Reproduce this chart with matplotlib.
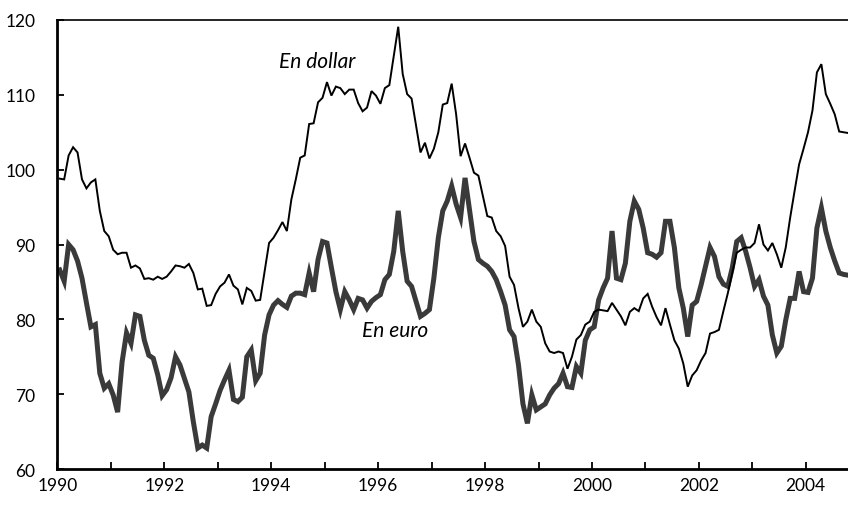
import numpy as np
import matplotlib
matplotlib.use("Agg")
import matplotlib.pyplot as plt
from matplotlib.ticker import MultipleLocator, FuncFormatter

plt.rcParams['font.family'] = ['Lato', 'DejaVu Sans']

# monthly index, Jan 1990 - Oct 2004
dollar = [
    98.8, 98.7, 101.9, 103.0, 102.3, 98.7, 97.5, 98.3, 98.7, 94.5, 91.8, 91.1,      # 1990
    89.3, 88.7, 88.9, 88.9, 86.9, 87.2, 86.8, 85.4, 85.5, 85.3, 85.7, 85.4,         # 1991
    85.7, 86.4, 87.2, 87.1, 86.9, 87.4, 86.2, 84.0, 84.1, 81.8, 81.9, 83.4,         # 1992
    84.4, 84.9, 86.0, 84.5, 84.0, 82.0, 84.2, 83.8, 82.5, 82.6, 86.4, 90.2,         # 1993
    90.9, 91.9, 93.0, 91.8, 96.0, 98.7, 101.6, 101.9, 106.1, 106.2, 109.0, 109.6,   # 1994
    111.7, 109.9, 111.1, 110.9, 110.1, 110.7, 110.7, 108.9, 107.8, 108.3, 110.5, 109.9,  # 1995
    108.8, 110.9, 111.3, 115.2, 119.1, 112.8, 110.1, 109.5, 105.9, 102.3, 103.6, 101.5,  # 1996
    102.8, 105.0, 108.7, 108.9, 111.5, 107.4, 101.8, 103.5, 101.6, 99.6, 99.2, 96.5,     # 1997
    93.8, 93.6, 91.8, 91.1, 89.8, 85.7, 84.6, 81.5, 79.0, 79.7, 81.3, 79.7,         # 1998
    79.0, 76.8, 75.7, 75.5, 75.7, 75.5, 73.4, 75.0, 77.3, 77.9, 79.3, 79.7,         # 1999
    81.0, 81.3, 81.2, 81.1, 82.2, 81.3, 80.4, 79.2, 81.0, 81.5, 81.1, 82.8,         # 2000
    83.4, 81.7, 80.3, 79.2, 81.5, 79.3, 77.2, 76.1, 74.1, 71.0, 72.5, 73.2,         # 2001
    74.5, 75.5, 78.1, 78.3, 78.6, 81.1, 83.5, 86.2, 88.9, 89.3, 89.6, 89.6,         # 2002
    90.2, 92.7, 90.0, 89.2, 90.2, 88.7, 86.9, 89.6, 93.6, 97.2, 100.7, 102.8,       # 2003
    105.0, 107.9, 113.0, 114.1, 110.1, 108.8, 107.4, 105.1, 105.0, 104.9,           # 2004
]

euro = [
    86.6, 85.1, 90.0, 89.3, 87.8, 85.5, 82.2, 79.0, 79.3, 72.8, 70.8, 71.4,         # 1990
    69.9, 67.6, 74.3, 78.2, 76.8, 80.6, 80.4, 77.2, 75.2, 74.8, 72.6, 69.8,         # 1991
    70.6, 72.2, 75.0, 73.9, 72.1, 70.3, 66.3, 62.8, 63.2, 62.8, 67.0, 68.7,         # 1992
    70.5, 71.9, 73.2, 69.3, 69.0, 69.6, 75.0, 75.9, 71.8, 72.8, 77.9, 80.6,         # 1993
    81.9, 82.5, 82.0, 81.6, 83.1, 83.5, 83.5, 83.3, 86.2, 83.7, 88.0, 90.4,         # 1994
    90.2, 86.9, 83.7, 81.3, 83.7, 82.6, 81.3, 82.8, 82.6, 81.5, 82.4, 82.9,         # 1995
    83.3, 85.3, 86.0, 89.1, 94.5, 89.1, 85.1, 84.4, 82.4, 80.4, 80.8, 81.3,         # 1996
    85.5, 90.9, 94.5, 95.8, 97.8, 95.4, 93.6, 98.9, 94.7, 90.4, 88.0, 87.5,         # 1997
    87.1, 86.4, 85.3, 83.7, 81.9, 78.6, 77.7, 73.9, 68.7, 66.1, 69.9, 67.9,         # 1998
    68.3, 68.7, 69.9, 70.8, 71.4, 72.8, 71.0, 70.9, 73.7, 72.8, 77.2, 78.6,         # 1999
    79.0, 82.6, 84.2, 85.5, 91.8, 85.5, 85.3, 87.5, 93.1, 95.8, 94.7, 92.2,         # 2000
    88.9, 88.7, 88.3, 88.9, 93.1, 93.1, 89.6, 84.2, 81.5, 77.7, 81.9, 82.4,         # 2001
    84.6, 87.1, 89.6, 88.4, 85.7, 84.7, 84.4, 86.9, 90.4, 90.9, 89.1, 86.9,         # 2002
    84.4, 85.3, 83.1, 81.9, 77.9, 75.5, 76.4, 79.9, 82.8, 82.8, 86.4, 83.7,         # 2003
    83.6, 85.5, 92.2, 94.9, 91.8, 89.6, 87.8, 86.2, 86.0, 85.9,                     # 2004
]

# mid-month positions
t = 1990 + (np.arange(len(dollar)) + 0.5) / 12.0

fig = plt.figure(figsize=(8.48, 5.06), dpi=100)
ax = fig.add_axes([0.0678, 0.0711, 0.9322, 0.8874])

ax.plot(t, euro, color='#3a3a3a', lw=3.6, solid_joinstyle='miter', zorder=2)
ax.plot(t, dollar, color='black', lw=1.4, solid_joinstyle='miter', zorder=3)

ax.set_xlim(1990, 2004.79)
ax.set_ylim(60, 120)

ax.xaxis.set_major_locator(MultipleLocator(2))
ax.xaxis.set_minor_locator(MultipleLocator(1))
ax.xaxis.set_major_formatter(FuncFormatter(lambda v, p: "%d" % v))
ax.yaxis.set_major_locator(MultipleLocator(10))

ax.tick_params(axis='both', which='both', direction='in', width=1.3, length=5,
               labelsize=12.5, colors='black')
ax.tick_params(axis='x', which='major', pad=6)
ax.tick_params(axis='y', which='major', pad=16)
ax.tick_params(axis='y', which='both', right=False)
ax.tick_params(axis='x', which='both', top=False)

for s in ['left', 'bottom']:
    ax.spines[s].set_linewidth(2)
ax.spines['top'].set_linewidth(1.2)
ax.spines['right'].set_visible(False)

ax.text(1994.85, 114.5, "En dollar", style='italic', fontsize=15,
        ha='center', va='center')
ax.text(1996.32, 78.6, "En euro", style='italic', fontsize=15,
        ha='center', va='center')

fig.savefig("out.png", dpi=100)
